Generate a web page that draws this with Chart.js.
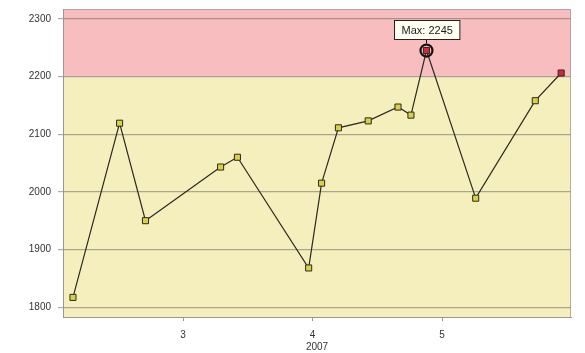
<!DOCTYPE html>
<html>
<head>
<meta charset="utf-8">
<script src="https://cdn.jsdelivr.net/npm/chart.js@4"></script>
<style>
  html, body { margin: 0; padding: 0; background: #fff; }
  #wrap { width: 585px; height: 353px; }
</style>
</head>
<body>
<div id="wrap"><canvas id="chart"></canvas></div>
<script>
// data
var xValues = [2.15, 2.51, 2.71, 3.29, 3.42, 3.97, 4.07, 4.20, 4.43, 4.66, 4.76, 4.88, 5.26, 5.72, 5.92];
var yValues = [1817, 2119, 1950, 2043, 2060, 1868, 2015, 2111, 2123, 2147, 2133, 2245, 1989, 2158, 2206];
var yTicks = [1800, 1900, 2000, 2100, 2200, 2300];
var xTicks = [3, 4, 5];
var xTitle = '2007';
var threshold = 2200;

var points = xValues.map(function (x, i) { return { x: x, y: yValues[i] }; });
var maxIndex = yValues.indexOf(Math.max.apply(null, yValues));

var bandsPlugin = {
    id: 'bands',
    beforeDraw: function (chart) {
        var ctx = chart.ctx, a = chart.chartArea, y = chart.scales.y;
        var ty = y.getPixelForValue(threshold);
        ctx.save();
        ctx.fillStyle = '#f8bdbe';
        ctx.fillRect(a.left, a.top, a.right - a.left, ty - a.top);
        ctx.fillStyle = '#f5efbd';
        ctx.fillRect(a.left, ty, a.right - a.left, a.bottom - ty);
        ctx.restore();
    },
    afterDraw: function (chart) {
        var ctx = chart.ctx, a = chart.chartArea;
        ctx.save();
        ctx.strokeStyle = 'rgba(150,150,150,0.7)';
        ctx.lineWidth = 1;
        ctx.strokeRect(a.left + 0.5, a.top + 0.5, a.right - a.left - 1, a.bottom - a.top);

        // max marker and label
        var px = chart.scales.x.getPixelForValue(xValues[maxIndex]);
        var py = chart.scales.y.getPixelForValue(yValues[maxIndex]);
        ctx.strokeStyle = '#111';
        ctx.lineWidth = 2.2;
        ctx.beginPath();
        ctx.arc(px, py, 6, 0, Math.PI * 2);
        ctx.stroke();

        var text = 'Max: ' + yValues[maxIndex];
        ctx.font = '11px "Liberation Sans", Arial, sans-serif';
        var w = ctx.measureText(text).width + 14;
        var h = 19;
        var bx = Math.round(px - w / 2) + 0.5, by = Math.round(py) - 30.5;
        ctx.lineWidth = 1;
        ctx.beginPath();
        ctx.moveTo(px, by + h);
        ctx.lineTo(px, py - 7);
        ctx.stroke();
        ctx.fillStyle = '#fffff4';
        ctx.fillRect(bx, by, w, h);
        ctx.strokeStyle = '#222';
        ctx.strokeRect(bx, by, w, h);
        ctx.fillStyle = '#222';
        ctx.textAlign = 'center';
        ctx.textBaseline = 'middle';
        ctx.fillText(text, bx + w / 2, by + h / 2 + 0.5);
        ctx.restore();
    }
};

new Chart(document.getElementById('chart').getContext('2d'), {
    type: 'scatter',
    data: {
        datasets: [{
            data: points,
            showLine: true,
            borderColor: '#2b2a22',
            borderWidth: 1.2,
            pointStyle: 'rect',
            pointRadius: 4.3,
            pointBorderWidth: 1,
            pointBorderColor: '#2b2a22',
            pointBackgroundColor: yValues.map(function (v) { return v > threshold ? '#d8253e' : '#d9d044'; })
        }]
    },
    options: {
        responsive: true,
        maintainAspectRatio: false,
        animation: false,
        layout: { padding: { left: 0, right: 14, top: 9, bottom: 0 } },
        plugins: { legend: { display: false }, tooltip: { enabled: false } },
        scales: {
            x: {
                type: 'linear',
                min: 2.073,
                max: 5.996,
                afterBuildTicks: function (s) { s.ticks = xTicks.map(function (v) { return { value: v }; }); },
                afterFit: function (s) { s.height = 36; s.paddingLeft = 0; s.paddingRight = 0; },
                grid: { display: true, drawOnChartArea: false, drawTicks: true, tickLength: 4, color: '#999' },
                border: { color: '#999' },
                ticks: { color: '#333', padding: 8, font: { family: '"Liberation Sans", Arial, sans-serif', size: 10 },
                         callback: function (v) { return String(v); } },
                title: { display: true, text: xTitle, color: '#333', padding: { top: 0, bottom: 0 },
                         font: { family: '"Liberation Sans", Arial, sans-serif', size: 10 } }
            },
            y: {
                min: 1783,
                max: 2317,
                afterBuildTicks: function (s) { s.ticks = yTicks.map(function (v) { return { value: v }; }); },
                afterFit: function (s) { s.width = 63; s.paddingTop = 0; s.paddingBottom = 0; },
                grid: { color: 'rgba(110,105,95,0.55)', tickLength: 5, lineWidth: 1.2 },
                border: { color: '#999' },
                ticks: { color: '#333', padding: 7, font: { family: '"Liberation Sans", Arial, sans-serif', size: 10 },
                         callback: function (v) { return String(v); } }
            }
        }
    },
    plugins: [bandsPlugin]
});
</script>
</body>
</html>
